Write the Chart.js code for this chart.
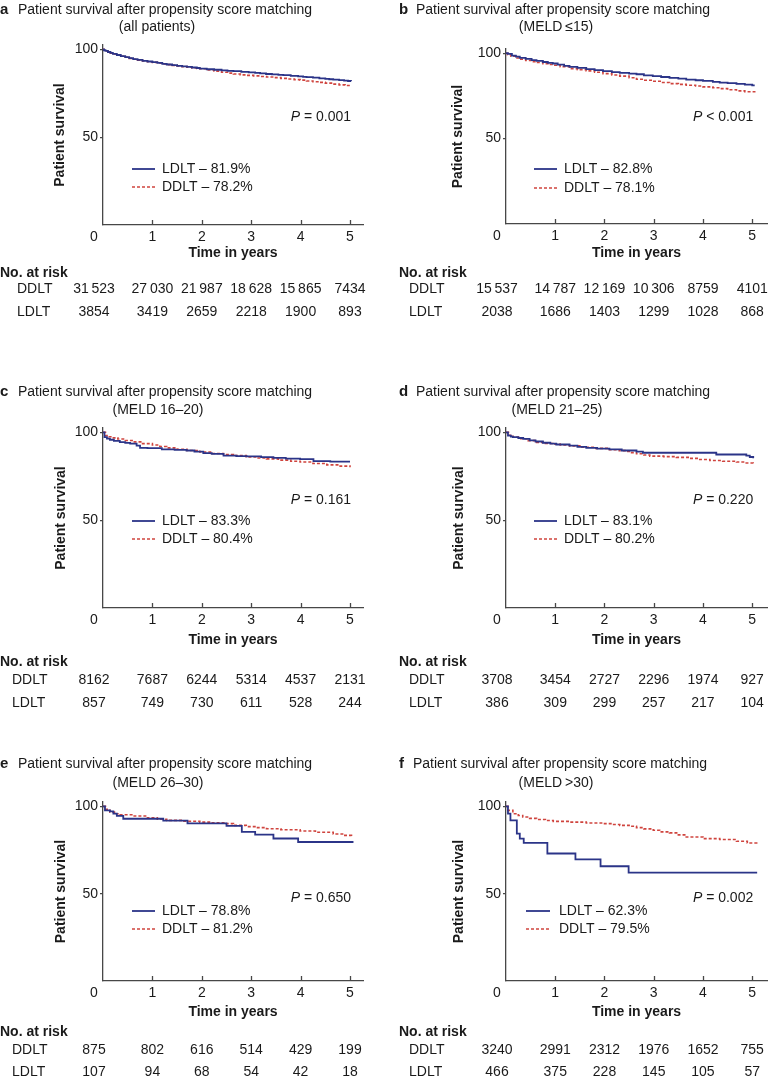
<!DOCTYPE html>
<html>
<head>
<meta charset="utf-8">
<script src="https://cdn.jsdelivr.net/npm/chart.js@4.4.1/dist/chart.umd.min.js"></script>
<style>
  html, body { margin: 0; padding: 0; background: #fff; }
  #wrap { position: relative; width: 769px; height: 1081px; overflow: hidden; }
  #wrap canvas { position: absolute; }
</style>
</head>
<body>
<div id="wrap"></div>
<script>
// Survival curves: [time in years, survival %]
const aLdlt = [[0,100],[0.02,99.5],[0.05,99.1],[0.1,98.5],[0.15,98.0],[0.2,97.5],[0.28,96.8],[0.36,96.2],[0.45,95.6],[0.53,95.0],[0.61,94.5],[0.7,94.0],[0.8,93.5],[0.9,93.1],[1.0,92.7],[1.1,92.3],[1.2,91.8],[1.29,91.4],[1.4,91.0],[1.5,90.6],[1.6,90.3],[1.7,90.0],[1.8,89.7],[1.9,89.4],[1.96,89.1],[2.1,88.7],[2.25,88.4],[2.4,88.1],[2.52,87.8],[2.64,87.6],[2.8,87.2],[2.95,86.9],[3.08,86.6],[3.18,86.3],[3.3,86.0],[3.42,85.8],[3.55,85.5],[3.65,85.3],[3.8,84.9],[3.95,84.6],[4.05,84.4],[4.12,84.2],[4.25,83.9],[4.38,83.5],[4.5,83.2],[4.58,83.0],[4.66,82.8],[4.78,82.5],[4.88,82.2],[4.96,82.0],[5.02,81.9]];
const aDdlt = [[0,100],[0.02,99.5],[0.05,99.0],[0.1,98.4],[0.15,97.9],[0.2,97.4],[0.28,96.7],[0.36,96.1],[0.45,95.5],[0.53,94.9],[0.61,94.4],[0.7,93.9],[0.8,93.4],[0.9,93.0],[1.0,92.6],[1.1,92.2],[1.2,91.7],[1.29,91.3],[1.4,90.9],[1.5,90.5],[1.6,90.2],[1.7,89.9],[1.8,89.5],[1.9,89.2],[1.96,89.0],[2.1,88.3],[2.25,87.6],[2.4,87.0],[2.52,86.5],[2.64,86.0],[2.78,85.5],[2.9,85.2],[3.05,84.9],[3.18,84.6],[3.31,84.3],[3.45,83.9],[3.6,83.5],[3.75,83.1],[3.87,82.8],[3.99,82.5],[4.12,82.0],[4.25,81.6],[4.38,81.2],[4.5,80.8],[4.66,80.2],[4.78,79.8],[4.9,79.4],[5.02,79.0]];

const bLdlt = [[0,100],[0.04,99.6],[0.12,98.6],[0.2,98.0],[0.28,97.3],[0.4,96.7],[0.52,96.0],[0.62,95.5],[0.75,94.9],[0.85,94.4],[0.95,94.0],[1.05,93.3],[1.18,92.6],[1.29,92.0],[1.45,91.4],[1.63,90.7],[1.8,90.1],[1.97,89.5],[2.15,89.0],[2.31,88.5],[2.5,88.1],[2.65,87.7],[2.8,87.1],[2.98,86.6],[3.15,86.1],[3.32,85.6],[3.5,85.1],[3.66,84.6],[3.85,84.2],[4.0,83.8],[4.2,83.3],[4.34,82.8],[4.5,82.5],[4.68,82.1],[4.85,81.6],[5.0,81.2],[5.05,81.2]];
const bDdlt = [[0,100],[0.03,99.2],[0.1,98.3],[0.2,97.2],[0.28,96.5],[0.4,95.8],[0.52,95.1],[0.62,94.6],[0.75,93.9],[0.85,93.4],[0.95,93.0],[1.1,92.1],[1.29,91.0],[1.45,90.4],[1.63,89.7],[1.8,88.9],[1.97,88.1],[2.15,87.3],[2.31,86.6],[2.5,85.7],[2.65,84.8],[2.8,84.2],[2.98,83.6],[3.15,82.9],[3.32,82.2],[3.5,81.8],[3.66,81.3],[3.85,80.8],[4.0,80.3],[4.2,79.8],[4.34,79.3],[4.5,78.6],[4.68,78.0],[4.85,77.5],[5.05,77.0]];

const cLdlt = [[0,100],[0.03,97.3],[0.08,96.5],[0.14,95.8],[0.22,95.2],[0.34,94.5],[0.45,94.0],[0.55,93.6],[0.68,92.5],[0.75,91.2],[0.9,91.0],[1.19,90.3],[1.45,90.0],[1.69,89.7],[1.85,89.0],[2.03,88.2],[2.2,87.8],[2.44,86.8],[2.7,86.5],[2.91,86.3],[3.2,85.9],[3.45,85.5],[3.7,85.1],[3.99,84.8],[4.26,83.6],[4.6,83.4],[5.0,83.4]];
const cDdlt = [[0,100],[0.05,98.2],[0.12,97.5],[0.21,96.9],[0.3,96.2],[0.45,95.4],[0.61,94.6],[0.8,93.6],[1.0,92.8],[1.15,92.0],[1.29,91.2],[1.5,90.4],[1.7,89.7],[1.96,88.8],[2.2,88.0],[2.44,87.4],[2.64,86.8],[2.9,86.0],[3.1,85.4],[3.31,84.9],[3.55,84.2],[3.8,83.6],[3.99,83.1],[4.25,82.3],[4.53,81.5],[4.8,80.8],[5.0,80.2]];

const dLdlt = [[0,100],[0.04,98.2],[0.1,97.6],[0.14,97.3],[0.25,96.8],[0.35,96.3],[0.48,95.4],[0.6,94.8],[0.75,94.1],[0.9,93.6],[1.02,93.1],[1.29,92.5],[1.45,91.8],[1.63,91.2],[1.85,90.8],[2.1,90.3],[2.35,89.7],[2.65,89.1],[2.78,88.4],[4.27,87.4],[4.88,86.8],[4.95,86.0],[5.02,85.3]];
const dDdlt = [[0,100],[0.05,98.4],[0.14,97.3],[0.3,96.4],[0.45,95.3],[0.62,94.3],[0.8,93.7],[0.95,93.3],[1.1,92.8],[1.29,92.3],[1.5,91.5],[1.8,90.9],[2.1,90.1],[2.3,89.6],[2.44,89.2],[2.55,88.5],[2.65,87.8],[2.8,87.1],[2.92,86.5],[3.2,86.2],[3.46,85.8],[3.7,85.2],[3.9,84.6],[4.14,84.0],[4.4,83.6],[4.68,83.1],[4.85,82.6],[5.02,82.1]];

const eLdlt = [[0,100],[0.04,97.7],[0.14,97.1],[0.21,95.8],[0.28,94.5],[0.41,92.9],[1.22,91.8],[1.71,90.3],[2.5,88.8],[2.81,85.4],[3.08,83.8],[3.45,81.6],[3.95,79.6],[5.07,79.6]];
const eDdlt = [[0,100],[0.05,98.3],[0.14,96.7],[0.25,95.8],[0.34,95.2],[0.61,94.5],[0.9,93.4],[1.1,92.6],[1.29,92.0],[1.6,91.5],[1.96,91.0],[2.2,90.6],[2.5,90.1],[2.64,89.1],[2.9,88.4],[3.1,87.8],[3.31,87.2],[3.6,86.6],[3.99,85.9],[4.3,85.2],[4.66,84.2],[4.85,83.4],[5.03,82.6]];

const fLdlt = [[0,100],[0.04,95.8],[0.09,92.0],[0.22,84.4],[0.28,81.5],[0.36,79.1],[0.84,73.0],[1.41,69.7],[1.92,65.7],[2.49,62.1],[5.1,62.1]];
const fDdlt = [[0,100],[0.04,97.7],[0.14,95.8],[0.25,94.8],[0.34,93.9],[0.48,93.1],[0.62,92.5],[0.8,91.9],[0.96,91.4],[1.29,91.0],[1.63,90.5],[1.97,90.1],[2.15,89.6],[2.31,89.1],[2.5,88.6],[2.65,87.8],[2.8,87.1],[2.99,86.3],[3.12,85.4],[3.32,84.8],[3.5,83.7],[3.66,82.5],[4.0,81.5],[4.34,81.0],[4.68,80.0],[4.9,79.0],[5.09,78.1]];

const ldltCurves = [aLdlt, bLdlt, cLdlt, dLdlt, eLdlt, fLdlt];
const ddltCurves = [aDdlt, bDdlt, cDdlt, dDdlt, eDdlt, fDdlt];

// Text and numbers of each panel
const panelLetters = ['a', 'b', 'c', 'd', 'e', 'f'];
const panelSubtitles = ['(all patients)', '(MELD\u2009\u226415)', '(MELD 16\u201320)', '(MELD 21\u201325)', '(MELD 26\u201330)', '(MELD\u2009>30)'];
const ldltPct = ['81.9', '82.8', '83.3', '83.1', '78.8', '62.3'];
const ddltPct = ['78.2', '78.1', '80.4', '80.2', '81.2', '79.5'];
const pValues = ['= 0.001', '< 0.001', '= 0.161', '= 0.220', '= 0.650', '= 0.002'];
const riskDdlt = [
    [31523, 27030, 21987, 18628, 15865, 7434],
    [15537, 14787, 12169, 10306, 8759, 4101],
    [8162, 7687, 6244, 5314, 4537, 2131],
    [3708, 3454, 2727, 2296, 1974, 927],
    [875, 802, 616, 514, 429, 199],
    [3240, 2991, 2312, 1976, 1652, 755]
];
const riskLdlt = [
    [3854, 3419, 2659, 2218, 1900, 893],
    [2038, 1686, 1403, 1299, 1028, 868],
    [857, 749, 730, 611, 528, 244],
    [386, 309, 299, 257, 217, 104],
    [107, 94, 68, 54, 42, 18],
    [466, 375, 228, 145, 105, 57]
];
const yearTicks = [0, 1, 2, 3, 4, 5];
const survTicks = [50, 100];

// Layout of each panel (canvas-local pixels)
const FONT = '"Liberation Sans", Arial, Helvetica, sans-serif';
const TEXT = '#1a1a1a';
const AXIS = '#474747';
const BLUE = '#2b3488';
const RED = '#cf443e';
const X_AXIS_H = 46;

const layouts = [
    { left: 0,   top: 0,   w: 384, h: 382, pl: 103, pr: 363, pt: 45, pb: 225, xMax: 5.263, letterX: 0,  titleX: 18, titleY: 10, subX: 157, subY: 27.5, yTitleX: 60, xTitleY: 253, legX: [29, 52, 59], legY: [169, 187], pY: 117, headX: 0,  labX: 17, tabY: [273, 289, 312] },
    { left: 384, top: 0,   w: 385, h: 382, pl: 122, pr: 383, pt: 49, pb: 224, xMax: 5.3,   letterX: 15, titleX: 32, titleY: 10, subX: 172, subY: 27.5, yTitleX: 74, xTitleY: 253, legX: [28, 51, 58], legY: [169, 188], pY: 117, headX: 15, labX: 25, tabY: [273, 289, 312] },
    { left: 0,   top: 382, w: 384, h: 373, pl: 103, pr: 363, pt: 46, pb: 226, xMax: 5.263, letterX: 0,  titleX: 18, titleY: 10, subX: 158, subY: 28,   yTitleX: 61, xTitleY: 258, legX: [29, 52, 59], legY: [139, 157], pY: 118, headX: 0,  labX: 12, tabY: [280, 298, 321] },
    { left: 384, top: 382, w: 385, h: 373, pl: 122, pr: 383, pt: 46, pb: 226, xMax: 5.3,   letterX: 15, titleX: 32, titleY: 10, subX: 173, subY: 28,   yTitleX: 75, xTitleY: 258, legX: [28, 51, 58], legY: [139, 157], pY: 118, headX: 15, labX: 25, tabY: [280, 298, 321] },
    { left: 0,   top: 755, w: 384, h: 326, pl: 103, pr: 363, pt: 47, pb: 226, xMax: 5.263, letterX: 0,  titleX: 18, titleY: 9,  subX: 158, subY: 28,   yTitleX: 61, xTitleY: 257, legX: [29, 52, 59], legY: [156, 174], pY: 143, headX: 0,  labX: 12, tabY: [277, 295, 317] },
    { left: 384, top: 755, w: 385, h: 326, pl: 122, pr: 383, pt: 47, pb: 226, xMax: 5.3,   letterX: 15, titleX: 29, titleY: 9,  subX: 172, subY: 28,   yTitleX: 75, xTitleY: 257, legX: [20, 44, 53], legY: [156, 174], pY: 143, headX: 15, labX: 25, tabY: [277, 295, 317] }
];

Chart.defaults.font.family = FONT;
Chart.defaults.font.size = 14;
Chart.defaults.color = TEXT;

function fmtRisk(n) {
    const s = String(n);
    return n >= 10000 ? s.slice(0, s.length - 3) + '\u2009' + s.slice(-3) : s;
}

// Title, inner x ticks, legend, P value and risk table
const panelDecor = {
    id: 'panelDecor',
    afterDraw(chart, args, opts) {
        const i = opts.index;
        const lay = layouts[i];
        const ctx = chart.ctx;
        const xs = chart.scales.x;
        const area = chart.chartArea;
        ctx.save();
        ctx.fillStyle = TEXT;
        ctx.textBaseline = 'middle';

        // title
        ctx.textAlign = 'left';
        ctx.font = 'bold 15px ' + FONT;
        ctx.fillText(panelLetters[i], lay.letterX, lay.titleY);
        ctx.font = '14px ' + FONT;
        ctx.fillText('Patient survival after propensity score matching', lay.titleX, lay.titleY);
        ctx.textAlign = 'center';
        ctx.fillText(panelSubtitles[i], lay.subX, lay.subY);

        // ticks pointing into the plot
        ctx.strokeStyle = AXIS;
        ctx.lineWidth = 1.3;
        yearTicks.forEach(t => {
            if (t === 0) return;
            const x = Math.round(xs.getPixelForValue(t)) + 0.5;
            ctx.beginPath();
            ctx.moveTo(x, area.bottom);
            ctx.lineTo(x, area.bottom - 5);
            ctx.stroke();
        });
        const x0 = area.left - 9;
        ctx.fillText('0', x0, area.bottom + 12.5);

        // legend
        const pcts = [ldltPct[i], ddltPct[i]];
        chart.data.datasets.forEach((ds, k) => {
            const y = lay.legY[k];
            ctx.strokeStyle = ds.borderColor;
            ctx.lineWidth = ds.borderWidth;
            ctx.setLineDash(ds.borderDash || []);
            ctx.beginPath();
            ctx.moveTo(area.left + lay.legX[0], y);
            ctx.lineTo(area.left + lay.legX[1], y);
            ctx.stroke();
            ctx.setLineDash([]);
            ctx.textAlign = 'left';
            ctx.font = '14px ' + FONT;
            ctx.fillText(ds.label + ' \u2013 ' + pcts[k] + '%', area.left + lay.legX[2], y);
        });

        // P value
        const xr = xs.getPixelForValue(5) + 1;
        const rest = ' ' + pValues[i];
        ctx.font = '14px ' + FONT;
        const wRest = ctx.measureText(rest).width;
        ctx.textAlign = 'right';
        ctx.fillText(rest, xr, lay.pY);
        ctx.font = 'italic 14px ' + FONT;
        ctx.fillText('P', xr - wRest, lay.pY);

        // number at risk
        ctx.textAlign = 'left';
        ctx.font = 'bold 14px ' + FONT;
        ctx.fillText('No. at risk', lay.headX, lay.tabY[0]);
        ctx.font = '14px ' + FONT;
        ctx.fillText('DDLT', lay.labX, lay.tabY[1]);
        ctx.fillText('LDLT', lay.labX, lay.tabY[2]);
        ctx.textAlign = 'center';
        yearTicks.forEach((t, j) => {
            const x = t === 0 ? x0 : xs.getPixelForValue(t);
            ctx.fillText(fmtRisk(riskDdlt[i][j]), x, lay.tabY[1]);
            ctx.fillText(fmtRisk(riskLdlt[i][j]), x, lay.tabY[2]);
        });
        ctx.restore();
    }
};

const wrap = document.getElementById('wrap');

layouts.forEach((lay, i) => {
    const canvas = document.createElement('canvas');
    canvas.width = lay.w;
    canvas.height = lay.h;
    canvas.style.left = lay.left + 'px';
    canvas.style.top = lay.top + 'px';
    canvas.style.width = lay.w + 'px';
    canvas.style.height = lay.h + 'px';
    wrap.appendChild(canvas);

    new Chart(canvas, {
        type: 'line',
        data: {
            datasets: [{
                label: 'LDLT',
                data: ldltCurves[i].map(([t, s]) => ({ x: t, y: s })),
                borderColor: BLUE,
                borderWidth: 1.8,
                pointRadius: 0,
                stepped: true,
                fill: false
            }, {
                label: 'DDLT',
                data: ddltCurves[i].map(([t, s]) => ({ x: t, y: s })),
                borderColor: RED,
                borderWidth: 1.6,
                borderDash: [3, 2],
                pointRadius: 0,
                stepped: true,
                fill: false
            }]
        },
        options: {
            responsive: false,
            animation: false,
            layout: {
                padding: { left: 0, top: lay.pt, right: lay.w - lay.pr, bottom: lay.h - lay.pb - X_AXIS_H }
            },
            plugins: {
                legend: { display: false },
                tooltip: { enabled: false },
                panelDecor: { index: i }
            },
            scales: {
                x: {
                    type: 'linear',
                    min: 0,
                    max: lay.xMax,
                    afterBuildTicks: (scale) => { scale.ticks = yearTicks.filter(t => t > 0).map(v => ({ value: v })); },
                    afterFit: (scale) => { scale.height = X_AXIS_H; },
                    grid: { display: false, drawTicks: false },
                    border: { display: true, color: AXIS, width: 1.3 },
                    ticks: { padding: 4, color: TEXT, font: { size: 14 }, maxRotation: 0 },
                    title: {
                        display: true,
                        text: 'Time in years',
                        color: TEXT,
                        font: { size: 14, weight: 'bold' },
                        padding: { top: 0, bottom: lay.pb + X_AXIS_H - lay.xTitleY - 8.4 }
                    }
                },
                y: {
                    type: 'linear',
                    min: 0,
                    max: 102.5,
                    afterBuildTicks: (scale) => { scale.ticks = survTicks.map(v => ({ value: v })); },
                    afterFit: (scale) => { scale.width = lay.pl; },
                    grid: { drawOnChartArea: false, drawTicks: true, tickLength: 3, color: AXIS, lineWidth: 1.3 },
                    border: { display: true, color: AXIS, width: 1.3 },
                    ticks: { padding: 2, color: TEXT, font: { size: 14 } },
                    title: {
                        display: true,
                        text: 'Patient survival',
                        color: TEXT,
                        font: { size: 14, weight: 'bold' },
                        padding: { top: lay.yTitleX - 8.4, bottom: 0 }
                    }
                }
            }
        },
        plugins: [panelDecor]
    });
});
</script>
</body>
</html>
